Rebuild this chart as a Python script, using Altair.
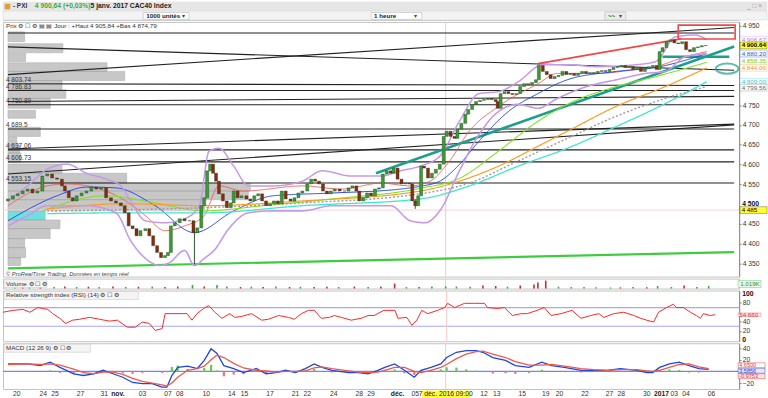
import altair as alt
import pandas as pd

W = 740
FONT = "Liberation Sans"

# ---------------- price: (bar position t, close) ----------------
close_pts = [(0,4513),(5,4521),(10,4526),(15,4533),(20,4538),(25,4528),(30,4533),(35,4571),(40,4576),(45,4566),(50,4563),(55,4546),(58,4533),(62,4516),(66,4508),(70,4521),(75,4528),(80,4533),(85,4543),(90,4538),(95,4541),(100,4516),(105,4508),(110,4503),(115,4496),(119,4478),(123,4445),(127,4438),(131,4420),(135,4433),(140,4438),(144,4420),(148,4395),(152,4378),(156,4365),(160,4370),(163,4378),(166,4445),(170,4453),(175,4463),(180,4458),(185,4458),(189,4428),(193,4440),(197,4496),(200,4516),(203,4584),(206,4601),(209,4578),(212,4558),(215,4526),(219,4508),(223,4491),(227,4503),(230,4533),(234,4516),(238,4521),(243,4513),(247,4508),(251,4521),(255,4526),(259,4508),(263,4496),(267,4501),(271,4508),(275,4501),(279,4533),(283,4513),(288,4508),(292,4516),(296,4528),(300,4533),(305,4551),(309,4563),(313,4558),(317,4551),(321,4533),(325,4526),(329,4533),(333,4538),(338,4533),(343,4533),(347,4541),(351,4546),(355,4533),(358,4508),(362,4516),(366,4528),(370,4521),(374,4538),(378,4541),(382,4576),(386,4584),(390,4578),(393,4591),(397,4563),(401,4551),(405,4553),(409,4551),(412,4508),(415,4496),(418,4521),(421,4596),(424,4591),(428,4566),(432,4578),(436,4588),(440,4601),(444,4671),(447,4684),(451,4671),(455,4666),(458,4689),(462,4704),(466,4727),(469,4739),(473,4752),(477,4759),(481,4762),(485,4764),(489,4767),(493,4764),(497,4759),(499,4742),(502,4779),(506,4784),(510,4779),(514,4777),(518,4779),(522,4797),(526,4804),(530,4802),(534,4807),(538,4814),(541,4850),(545,4835),(549,4827),(553,4817),(557,4822),(561,4825),(565,4835),(569,4827),(573,4830),(577,4825),(581,4830),(585,4835),(589,4830),(593,4832),(597,4830),(601,4835),(605,4837),(609,4835),(613,4840),(617,4845),(621,4847),(625,4850),(629,4845),(633,4847),(637,4840),(641,4845),(645,4835),(649,4842),(653,4847),(657,4850),(661,4840),(664,4885),(667,4895),(671,4910),(675,4915),(679,4907),(683,4905),(687,4910),(691,4890),(695,4885),(699,4895),(703,4897),(707,4900),(711,4900.64)]
first_open = 4508
wick_t = [190, 415]
wick_lo = [4348, 4488]
wick_hi = [4440, 4512]

# ---------------- moving averages & bands ----------------
ma_red = [(0,4496),(40,4546),(60,4551),(100,4533),(120,4508),(140,4471),(160,4433),(180,4445),(200,4471),(215,4546),(240,4533),(300,4546),(340,4538),(380,4553),(410,4546),(430,4558),(450,4609),(470,4684),(500,4747),(540,4804),(560,4830),(600,4830),(640,4840),(660,4847),(690,4872),(712,4885)]
ma_blue = [(0,4458),(50,4521),(80,4543),(110,4541),(150,4496),(190,4428),(230,4483),(270,4521),(330,4528),(400,4538),(420,4545),(440,4558),(460,4600),(480,4659),(510,4734),(540,4779),(570,4814),(620,4835),(660,4845),(712,4880)]
ma_lime = [(35,4483),(100,4521),(150,4503),(200,4483),(260,4496),(330,4513),(420,4540),(460,4565),(500,4634),(540,4709),(570,4752),(620,4797),(660,4822),(712,4858)]
ma_orange = [(40,4488),(120,4501),(200,4496),(300,4508),(420,4533),(460,4558),(500,4596),(540,4646),(570,4684),(620,4747),(670,4797),(712,4844)]
ma_cyan = [(40,4476),(120,4478),(200,4478),(300,4496),(420,4513),(470,4546),(520,4596),(570,4641),(620,4696),(670,4754),(712,4809)]
ma_gray = [(40,4483),(200,4491),(300,4503),(420,4526),(470,4553),(520,4609),(570,4666),(620,4722),(670,4767),(712,4797)]
bb_up = [(0,4508),(20,4546),(40,4588),(60,4601),(80,4578),(100,4563),(115,4546),(125,4508),(140,4458),(160,4453),(180,4463),(195,4496),(205,4634),(215,4641),(230,4596),(245,4546),(270,4546),(300,4558),(320,4584),(350,4571),(380,4571),(400,4584),(420,4596),(440,4621),(460,4709),(480,4779),(500,4784),(520,4809),(545,4852),(570,4852),(600,4847),(640,4852),(660,4860),(680,4922),(700,4927),(712,4915)]
bb_lo = [(0,4445),(20,4471),(40,4496),(80,4496),(110,4478),(125,4408),(140,4363),(155,4345),(165,4353),(180,4383),(190,4345),(200,4363),(210,4383),(225,4438),(245,4478),(270,4483),(300,4483),(330,4496),(360,4496),(390,4496),(410,4458),(425,4453),(440,4483),(460,4584),(480,4676),(500,4734),(520,4752),(540,4742),(560,4767),(590,4797),(620,4814),(650,4830),(670,4835),(690,4872),(712,4880)]

# ---------------- drawn levels / trendlines: (t0, p0, t1, p1) ----------------
flat_levels = [4932, 4786.83, 4750.89, 4689.5, 4637.06, 4606.73, 4553.15]
black_lines = [(0,4897,740,4838),(0,4827,740,4946),(0,4759,740,4772),(0,4639,740,4702),(0,4576,740,4700),(0,4803.74,740,4799.4)]
teal_lines = [(375,4578,740,4898),(667,4872,735,4872)]
red_lines = [(540,4855,686,4917)]
green_lines = [(0,4338,740,4379)]
red_box = (683, 4952, 741, 4917)
level_text = ["4 803.74","4 786.83","4 750.89","4 689.5","4 637.06","4 606.73","4 553.15"]
level_val = [4803.74, 4786.83, 4750.89, 4689.5, 4637.06, 4606.73, 4553.15]

# ---------------- volume-at-price profile: (high, low, length) ----------------
profile = [(4935,4910,17),(4905,4882,56),(4880,4860,18),(4857,4835,101),(4835,4812,119),(4812,4789,55),(4789,4767,59),(4767,4742,43),(4737,4717,28),(4694,4671,33),(4669,4649,9),(4649,4629,12),(4629,4606,13),(4601,4578,55),(4578,4553,121),(4553,4533,247),(4533,4511,245),(4511,4483,200),(4483,4460,38),(4460,4438,53),(4438,4413,43),(4413,4390,17),(4390,4365,18),(4365,4345,13)]
profile_hl = 18  # highlighted (cyan) row

# ---------------- volume spikes (t, K, up?) ----------------
vol_t = [7,15,22,33,47,58,70,82,93,107,120,133,147,160,173,188,200,213,223,237,248,260,273,287,298,312,325,337,353,367,380,394,406,419,432,446,457,471,484,497,509,522,536,540,548,561,574,587,599,614,624,637,651,662,676,689,702,714]
vol_v = [1.2,2,1.5,1.8,1.5,2,1.5,1.8,1.5,2,1.5,1.8,2,1.5,2,3.5,2,3.5,2,1.5,1.8,1.5,2,1.5,1.8,1.5,1.8,1.5,2,1.5,2,5,1.5,1.5,2,2.2,2,1.8,3,2.5,1.8,3,4,6,8,1.8,1.5,1.5,1.2,1,1.2,1.5,1.2,2.5,1.5,3,1.5,2.5]
vol_up = [1,0,1,0,1,0,1,0,1,0,1,0,1,0,0,1,0,1,1,0,1,0,1,0,1,0,0,1,0,1,0,0,1,0,1,1,1,1,0,0,1,0,0,0,0,1,1,1,1,1,0,1,0,1,1,0,1,1]

# ---------------- RSI (14) ----------------
rsi_pts = [(0,60),(10,64),(20,66),(27,60),(35,70),(40,68),(45,66),(50,57),(57,47),(63,36),(70,43),(77,45),(87,49),(97,45),(107,41),(115,43),(125,28),(133,28),(140,39),(147,36),(153,21),(160,25),(163,57),(173,57),(185,57),(190,43),(195,57),(203,70),(207,74),(213,60),(220,47),(228,57),(233,49),(240,51),(250,57),(260,43),(267,45),(277,53),(287,49),(293,45),(300,57),(307,64),(313,64),(320,47),(328,49),(333,53),(340,49),(350,43),(360,47),(367,53),(373,53),(383,64),(394,64),(397,47),(406,49),(411,32),(416,43),(421,64),(427,57),(437,64),(444,70),(447,79),(454,70),(464,79),(474,79),(484,79),(487,70),(497,68),(504,70),(512,53),(521,57),(527,57),(537,64),(544,70),(551,53),(561,57),(572,64),(581,47),(591,53),(599,57),(604,49),(614,57),(624,60),(634,53),(641,47),(647,43),(654,39),(659,60),(667,70),(674,77),(677,70),(684,70),(691,60),(697,53),(701,47),(704,57),(711,53),(716,54.66)]

# ---------------- MACD (12 26 9): (t, macd, signal) ----------------
macd_pts = [(0,13,12),(20,13,13),(33,10,12),(43,16,13),(53,7,11),(67,-4,4),(77,-7,-2),(87,-4,-4),(97,2,-1),(107,-4,-1),(117,-10,-5),(127,-19,-12),(137,-21,-17),(147,-21,-20),(157,-27,-23),(162,-27,-25),(167,-7,-20),(173,7,-10),(183,9,2),(193,5,5),(200,19,9),(207,39,20),(213,31,28),(220,10,24),(230,5,14),(240,-2,6),(253,5,2),(263,-4,1),(273,-2,-1),(283,2,0),(293,-2,0),(303,5,1),(312,13,6),(320,7,8),(330,2,5),(347,-2,1),(357,-2,-1),(367,-4,-2),(377,2,-1),(384,7,2),(394,13,7),(404,2,7),(414,-10,0),(421,2,-2),(431,7,2),(441,13,7),(447,24,12),(457,33,22),(467,36,30),(477,36,34),(484,33,35),(494,24,30),(507,19,24),(517,10,17),(531,7,11),(544,16,11),(554,10,12),(567,7,9),(584,2,5),(597,2,3),(611,2,2),(624,5,3),(641,2,3),(651,-2,1),(657,-2,0),(664,7,2),(674,13,7),(684,16,12),(694,10,13),(704,5,8),(714,3.59,4.65)]

# ---------------- date axis ----------------
tick_t = [9,36,48,74,98,112,137,163,175,202,228,241,267,293,305,332,358,370,397,415,485,498,524,548,562,588,613,625,651,666,679,691,717]
tick_lab = ["20","24","25","27","31","nov.","03","07","08","10","14","15","17","21","22","24","28","29","déc.","05","12","13","15","19","20","22","27","28","30","2017","03","04","06"]
bold_lab = ["nov.","déc.","2017"]
cross_t = 446
cross_p = 4485

# ================= tables =================
cdf = pd.DataFrame(close_pts, columns=["t", "close"])
cdf["open"] = [first_open] + cdf["close"].tolist()[:-1]
cdf["c"] = ["#3d9b35" if c >= o else "#8a2a12" for o, c in zip(cdf["open"], cdf["close"])]
wdf = pd.DataFrame({"t": wick_t, "lo": wick_lo, "hi": wick_hi})

series = [("red", ma_red, "#ee5a4a", 0.9, [1, 0]), ("blue", ma_blue, "#1f45e6", 1.6, [1, 0]),
          ("lime", ma_lime, "#86e02a", 1.4, [1, 0]), ("orange", ma_orange, "#ff9a22", 1.6, [1, 0]),
          ("cyan", ma_cyan, "#3fe6cf", 1.4, [1, 0]), ("gray", ma_gray, "#9a9a9a", 1.0, [2, 2]),
          ("bbu", bb_up, "#c49ae8", 0.9, [1, 0]), ("bbl", bb_lo, "#c49ae8", 0.9, [1, 0])]
madf = pd.DataFrame([{"s": n, "t": t, "v": v} for n, pts, _, _, _ in series for t, v in pts])
s_dom = [s[0] for s in series]

tr_rows = []
for p in flat_levels:
    tr_rows.append({"t0": 0, "p0": p, "t1": W, "p1": p, "c": "#222222", "w": 1.1})
for a in black_lines:
    tr_rows.append({"t0": a[0], "p0": a[1], "t1": a[2], "p1": a[3], "c": "#222222", "w": 1.1})
for a in green_lines:
    tr_rows.append({"t0": a[0], "p0": a[1], "t1": a[2], "p1": a[3], "c": "#3ccc3c", "w": 2.2})
for a in red_lines:
    tr_rows.append({"t0": a[0], "p0": a[1], "t1": a[2], "p1": a[3], "c": "#f04848", "w": 1.8})
for a in teal_lines:
    tr_rows.append({"t0": a[0], "p0": a[1], "t1": a[2], "p1": a[3], "c": "#1e9e8c", "w": 2.6})
trdf = pd.DataFrame(tr_rows)

pdf = pd.DataFrame(profile, columns=["hi", "lo", "len"])
pdf["x0"] = 0
pdf["c"] = ["#3fd6d6" if i == profile_hl else "#b5b5b5" for i in range(len(pdf))]

lvdf = pd.DataFrame({"txt": level_text, "p": level_val})

right_labels = [("4 906.67", 4906.67, 3.4, "#b27ae0", "white", "normal"),
                ("4 900.64", 4900.64, 0, "#000000", "#ffff3a", "bold"),
                ("4 880.20", 4880.20, 0, "#2a4fe0", "white", "normal"),
                ("4 858.35", 4858.35, 1.5, "#78cc22", "white", "normal"),
                ("4 844.06", 4844.06, 0, "#ff9422", "white", "normal"),
                ("4 809.00", 4809.00, 0, "#2ec8d8", "white", "normal"),
                ("4 799.56", 4799.56, -2.2, "#666666", "white", "normal"),
                ("4 485", cross_p, 0, "#000000", "#ffff3a", "normal")]
rldf = pd.DataFrame([{"txt": a, "pos": p + d * 2.51, "c": c, "bg": b, "fw": f} for a, p, d, c, b, f in right_labels])
rldf["b1"] = rldf["pos"] + 8.5
rldf["b2"] = rldf["pos"] - 8.5

vdf = pd.DataFrame({"t": vol_t, "v": vol_v, "c": ["#33aa33" if u else "#cc2a2a" for u in vol_up]})
rdf = pd.DataFrame(rsi_pts, columns=["t", "rsi"])
mdf = pd.DataFrame(macd_pts, columns=["t", "macd", "signal"])
mdf["hist"] = (mdf["macd"] - mdf["signal"]) * 0.6
mdf["zero"] = 0.0
mdf["hc"] = ["#66cc44" if h >= 0 else "#ee7070" for h in mdf["hist"]]
mlong = pd.concat([mdf[["t"]].assign(v=mdf["macd"], s="macd"), mdf[["t"]].assign(v=mdf["signal"], s="signal")])
tdf = pd.DataFrame({"t": tick_t, "lab": tick_lab})
tdf["b"] = tdf["lab"].isin(bold_lab)
one = pd.DataFrame({"k": [1]})
crossdf = pd.DataFrame({"t": [cross_t], "p": [cross_p]})

# ================= helpers =================
xs = alt.Scale(domain=[0, W], nice=False, zero=False)


def X(f):
    return alt.X(f, type="quantitative", scale=xs, axis=None)


def vtext(x, y, s, size=7, color="#222", weight="normal", align="left", style="normal"):
    return alt.Chart(one).mark_text(text=s, align=align, baseline="middle", fontSize=size, color=color,
                                    fontWeight=weight, font=FONT, fontStyle=style).encode(x=alt.value(x), y=alt.value(y))


def vbox(x1, x2, y1, y2, fill, stroke="#bbbbbb", sw=0.6):
    return alt.Chart(one).mark_rect(fill=fill, stroke=stroke, strokeWidth=sw).encode(
        x=alt.value(x1), x2=alt.value(x2), y=alt.value(y1), y2=alt.value(y2))


def vline_cross():
    return alt.Chart(crossdf).mark_rule(color="#ffc4c4", strokeWidth=1).encode(x=X("t"))


axis_common = dict(orient="right", title=None, tickSize=2, tickColor="#888", domainColor="#888",
                   labelFontSize=6.8, labelColor="#333", labelPadding=1, labelFont=FONT, grid=False)

# ================= header =================
header = alt.layer(
    vbox(0, 768, 0, 9, "#e6e6e6", "#e6e6e6"),
    vbox(0, 768, 9, 18, "#f3f3f3", "#d8d8d8"),
    vbox(2, 7, 2, 7, "#e0a030", "#e0a030"),
    vtext(10, 4.5, "- PXI", 6.5, "#333", "bold"),
    vtext(32, 4.5, "4 900,64 (+0,03%)", 6.8, "#38b038", "bold"),
    vtext(88, 4.5, "5 janv. 2017 CAC40 Index", 6.8, "#222", "bold"),
    vtext(748, 4.5, "_ □ ×", 6.5, "#999"),
    vbox(141, 187, 10.5, 17.5, "white"),
    vtext(144, 14, "1000 unités", 6.3, "#222", "bold"),
    vtext(180, 14, "▾", 6.5, "#444"),
    vbox(370, 421, 10.5, 17.5, "white"),
    vtext(373, 14, "1 heure", 6.3, "#222", "bold"),
    vtext(413, 14, "▾", 6.5, "#444"),
    vbox(605, 626, 10, 18, "#ececec"),
    vtext(608, 14, "〰", 7, "#44aa44"),
    vtext(619, 14, "▾", 6, "#444"),
).properties(width=W, height=18)

# ================= main price panel =================
ys = alt.Scale(domain=[4317, 4960], nice=False, zero=False)
PA = alt.Axis(values=[4950, 4750, 4700, 4650, 4600, 4550, 4450, 4400, 4350],
              labelExpr="replace(format(datum.value, ','), ',', ' ')", **axis_common)


def PY(f):
    return alt.Y(f, type="quantitative", scale=ys, axis=PA)


prof = alt.Chart(pdf).mark_rect(stroke="#8c8c8c", strokeWidth=0.5, opacity=0.75).encode(
    x=X("x0"), x2="len:Q", y=PY("hi"), y2="lo:Q", fill=alt.Color("c:N", scale=None))
cross_h = alt.Chart(crossdf).mark_rule(color="#ffd0d0", strokeWidth=1).encode(y=PY("p"))
trend = alt.Chart(trdf).mark_rule().encode(
    x=X("t0"), x2="t1:Q", y=PY("p0"), y2="p1:Q",
    color=alt.Color("c:N", scale=None), strokeWidth=alt.StrokeWidth("w:Q", scale=None))
ma_lines = alt.Chart(madf).mark_line(interpolate="monotone").encode(
    x=X("t"), y=PY("v"),
    color=alt.Color("s:N", scale=alt.Scale(domain=s_dom, range=[s[2] for s in series]), legend=None),
    strokeWidth=alt.StrokeWidth("s:N", scale=alt.Scale(domain=s_dom, range=[s[3] for s in series]), legend=None),
    strokeDash=alt.StrokeDash("s:N", scale=alt.Scale(domain=s_dom, range=[s[4] for s in series]), legend=None))
wicks = alt.Chart(wdf).mark_rule(color="#2a5a2a", strokeWidth=1).encode(x=X("t"), y=PY("lo"), y2="hi:Q")
candles = alt.Chart(cdf).mark_bar(size=3, stroke="#1d3d1d", strokeWidth=0.4).encode(
    x=X("t"), y=PY("open"), y2="close:Q", fill=alt.Color("c:N", scale=None))
lv_text = alt.Chart(lvdf).mark_text(align="left", baseline="bottom", dx=3, dy=-1, fontSize=6.5, color="#333", font=FONT).encode(
    x=alt.value(0), y=PY("p"), text="txt:N")
rbox = alt.Chart(pd.DataFrame([{"t0": red_box[0], "p0": red_box[1], "t1": red_box[2], "p1": red_box[3]}])).mark_rect(
    fillOpacity=0, stroke="#f04848", strokeWidth=1.6).encode(x=X("t0"), x2="t1:Q", y=PY("p0"), y2="p1:Q")
lab_box = alt.Chart(rldf).mark_rect(strokeWidth=0.5, strokeOpacity=0.6).encode(
    x=alt.value(W + 1), x2=alt.value(W + 28), y=PY("b1"), y2="b2:Q",
    fill=alt.Color("bg:N", scale=None), stroke=alt.Stroke("c:N", scale=None))
lab_txt = alt.Chart(rldf[rldf.fw == "normal"]).mark_text(align="left", baseline="middle", dx=1.5, fontSize=6.3, font=FONT).encode(
    x=alt.value(W + 1), y=PY("pos"), text="txt:N", color=alt.Color("c:N", scale=None))
lab_txt_b = alt.Chart(rldf[rldf.fw == "bold"]).mark_text(align="left", baseline="middle", dx=1.5, fontSize=6.3,
                                                        fontWeight="bold", font=FONT).encode(
    x=alt.value(W + 1), y=PY("pos"), text="txt:N", color=alt.Color("c:N", scale=None))
ell = alt.Chart(pd.DataFrame({"p": [4842]})).mark_point(shape="M-1,0A1,0.45 0 1 0 1,0A1,0.45 0 1 0 -1,0", filled=False,
                                                       stroke="#1e9e8c", strokeWidth=2, size=520).encode(
    x=alt.value(728), y=PY("p"))
b4500 = alt.Chart(pd.DataFrame({"v": [4501], "txt": ["4 500"]})).mark_text(
    align="left", baseline="middle", dx=3, fontSize=6.8, fontWeight="bold", color="#111", font=FONT).encode(
    x=alt.value(W), y=PY("v"), text="txt:N")
main = alt.layer(
    prof, cross_h, vline_cross(), trend, ma_lines, wicks, candles, lv_text, rbox, ell, lab_box, lab_txt, lab_txt_b, b4500,
    vtext(3, 4, "Prix ⚙ ☐ ⚙ ▤ ▤   Jour : +Haut 4 905,84 +Bas 4 874,79", 6.3, "#333"),
    vtext(3, 253, "© ProRealTime Trading. Données en temps réel", 5.8, "#444", style="italic"),
).properties(width=W, height=256)

# ================= volume =================
vol = alt.layer(
    vline_cross(),
    alt.Chart(vdf).mark_bar(size=1.6).encode(
        x=X("t"), y=alt.Y("v:Q", scale=alt.Scale(domain=[0, 10], nice=False), axis=None),
        color=alt.Color("c:N", scale=None)),
    vbox(1, 44, 1, 9, "#f4f4f4", "#cccccc"),
    vtext(3, 5, "Volume ⚙ ☐ ⚙", 6.3, "#333"),
    vbox(W - 1, W + 22, 2, 9, "#eaf7ea", "#88cc88"),
    vtext(W + 1, 5.5, "1.019K", 6.2, "#2a9a2a"),
).properties(width=W, height=10)

# ================= RSI =================
rs = alt.Scale(domain=[-2.1, 106.4], nice=False, zero=False)
RA = alt.Axis(values=[20, 40, 80], **axis_common)


def RY(f):
    return alt.Y(f, type="quantitative", scale=rs, axis=RA)


rlab = pd.DataFrame({"v": [54.66], "b1": [58.5], "b2": [50.8]})
rsi = alt.layer(
    alt.Chart(pd.DataFrame({"lvl": [30, 70]})).mark_rule(color="#a8a8f0", strokeWidth=1.2).encode(y=RY("lvl")),
    vline_cross(),
    alt.Chart(rdf).mark_line(color="#ff2626", strokeWidth=1).encode(x=X("t"), y=RY("rsi")),
    vbox(1, 136, 1, 9, "#f4f4f4", "#cccccc"),
    vtext(3, 5, "Relative strength index (RSI) (14) ⚙ ☐ ⚙", 6.3, "#333"),
    alt.Chart(rlab).mark_rect(fill="#fde4e4", stroke="#f09090", strokeWidth=0.5).encode(
        x=alt.value(W - 1), x2=alt.value(W + 22), y=RY("b1"), y2="b2:Q"),
    alt.Chart(rlab).mark_text(text="54.660", align="left", baseline="middle", dx=1,
                              fontSize=6.3, color="#e03030", font=FONT).encode(x=alt.value(W - 1), y=RY("v")),
    alt.Chart(pd.DataFrame({"v": [100, 0], "txt": ["100", "0"]})).mark_text(
        align="left", baseline="middle", dx=3, fontSize=6.8, fontWeight="bold", color="#111", font=FONT).encode(
        x=alt.value(W), y=RY("v"), text="txt:N"),
).properties(width=W, height=51)

# ================= MACD =================
ms = alt.Scale(domain=[-30.3, 48.6], nice=False, zero=False)
MA = alt.Axis(values=[40, 20, -20], **axis_common)


def MY(f):
    return alt.Y(f, type="quantitative", scale=ms, axis=MA)


mlab = pd.DataFrame({"txt": ["4.6500", "3.5856", "-0.9753"], "pos": [10.5, 1.2, -8.2],
                     "c": ["#e04040", "#3040d0", "#e04040"], "bg": ["white", "#e8e8ff", "#fde4e4"]})
mlab["b1"] = mlab["pos"] + 4.4
mlab["b2"] = mlab["pos"] - 4.4
hl = pd.DataFrame({"a": [cross_t - 24], "b": [cross_t + 25], "t": [cross_t]})
macd = alt.layer(
    alt.Chart(pd.DataFrame({"z": [0]})).mark_rule(color="#8080ee", strokeWidth=1.2).encode(y=MY("z")),
    vline_cross(),
    alt.Chart(mdf).mark_bar(size=2.2).encode(x=X("t"), y=MY("hist"), y2="zero:Q", color=alt.Color("hc:N", scale=None)),
    alt.Chart(mlong).mark_line(strokeWidth=1.3).encode(
        x=X("t"), y=MY("v"),
        color=alt.Color("s:N", scale=alt.Scale(domain=["signal", "macd"], range=["#ee5555", "#4a58e0"]), legend=None)),
    vbox(1, 88, 1, 9, "#f4f4f4", "#cccccc"),
    vtext(3, 5, "MACD (12 26 9) ⚙ ☐ ⚙", 6.3, "#333"),
    alt.Chart(mlab).mark_rect(strokeWidth=0.5).encode(
        x=alt.value(W - 1), x2=alt.value(W + 26), y=MY("b1"), y2="b2:Q",
        fill=alt.Color("bg:N", scale=None), stroke=alt.Stroke("c:N", scale=None)),
    alt.Chart(mlab).mark_text(align="left", baseline="middle", dx=1, fontSize=5.6, font=FONT).encode(
        x=alt.value(W - 1), y=MY("pos"), text="txt:N", color=alt.Color("c:N", scale=None)),
    alt.Chart(tdf).transform_filter("!datum.b").mark_text(baseline="middle", fontSize=6.8, color="#333", font=FONT).encode(
        x=X("t"), y=alt.value(51.5), text="lab:N"),
    alt.Chart(tdf).transform_filter("datum.b").mark_text(baseline="middle", fontSize=6.8, color="#222",
                                                          fontWeight="bold", font=FONT).encode(
        x=X("t"), y=alt.value(51.5), text="lab:N"),
    alt.Chart(hl).mark_rect(fill="#ffff3a").encode(x=X("a"), x2="b:Q", y=alt.value(47.5), y2=alt.value(55.5)),
    alt.Chart(hl).mark_text(text="7 déc. 2016 09:00", baseline="middle", fontSize=6.8,
                            color="#222", font=FONT).encode(x=X("t"), y=alt.value(51.5)),
).properties(width=W, height=46)

chart = alt.vconcat(header, main, vol, rsi, macd, spacing=2, bounds="flush").properties(
    padding=0, background="white"
).configure_view(stroke="#c4c4c4", fill="white").configure_text(font=FONT)

chart.save("out.html", embed_options={"renderer": "svg", "actions": False})
